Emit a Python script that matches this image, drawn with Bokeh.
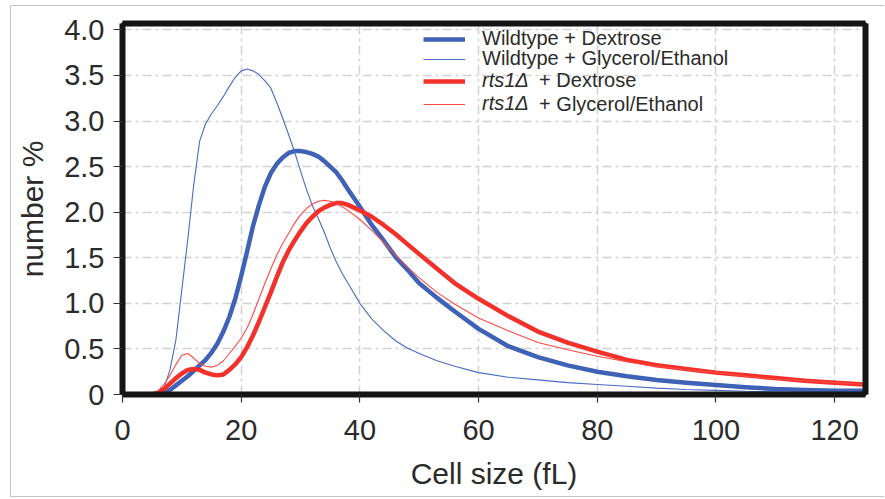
from bokeh.plotting import figure
from bokeh.models import Range1d, FixedTicker, PrintfTickFormatter, Legend, LegendItem, Label, LinearAxis
from bokeh.embed import file_html
from bokeh.resources import INLINE

# ---- data ----
cell_size = [0, 4, 5, 6, 7, 8, 9, 10,
             11, 12, 13, 14, 15, 16, 17, 18, 19, 20, 21, 22, 23, 24, 25, 26, 27, 28, 29, 30,
             31, 32, 33, 34, 35, 36, 37, 38,
             40, 42, 44, 46, 48, 50, 53, 56,
             60, 65, 70, 75, 80, 85, 90, 95, 100, 105, 110, 115, 120, 125]

wt_dextrose = [0, 0, 0, 0, 0.01, 0.05, 0.10, 0.15,
               0.20, 0.26, 0.32, 0.38, 0.46, 0.56, 0.69, 0.85, 1.05, 1.30, 1.57, 1.85, 2.08, 2.28, 2.43, 2.53, 2.60, 2.65, 2.67, 2.67,
               2.66, 2.64, 2.61, 2.56, 2.50, 2.44, 2.35, 2.25,
               2.06, 1.86, 1.69, 1.51, 1.37, 1.22, 1.06, 0.91,
               0.72, 0.53, 0.41, 0.32, 0.25, 0.20, 0.16, 0.13, 0.105, 0.08, 0.06, 0.05, 0.04, 0.04]

wt_glycerol = [0, 0, 0, 0.01, 0.07, 0.27, 0.60, 1.15,
               1.70, 2.30, 2.78, 2.97, 3.08, 3.17, 3.27, 3.38, 3.48, 3.55, 3.57, 3.55, 3.51, 3.44, 3.36, 3.20, 3.03, 2.85, 2.66, 2.45,
               2.25, 2.07, 1.93, 1.78, 1.61, 1.46, 1.33, 1.22,
               1.00, 0.83, 0.70, 0.59, 0.51, 0.45, 0.37, 0.31,
               0.24, 0.19, 0.16, 0.13, 0.11, 0.09, 0.07, 0.055, 0.045, 0.035, 0.03, 0.025, 0.02, 0.02]

rts1_dextrose = [0, 0, 0, 0.02, 0.06, 0.12, 0.18, 0.23,
                 0.27, 0.28, 0.27, 0.24, 0.22, 0.21, 0.22, 0.27, 0.33, 0.41, 0.52, 0.65, 0.80, 0.96, 1.12, 1.29, 1.45, 1.58, 1.69, 1.79,
                 1.88, 1.95, 2.01, 2.05, 2.08, 2.10, 2.10, 2.08,
                 2.02, 1.95, 1.86, 1.76, 1.65, 1.54, 1.38, 1.22,
                 1.05, 0.86, 0.69, 0.57, 0.47, 0.38, 0.32, 0.28, 0.24, 0.21, 0.18, 0.15, 0.13, 0.11]

rts1_glycerol = [0, 0, 0, 0.04, 0.11, 0.21, 0.33, 0.43,
                 0.45, 0.40, 0.34, 0.31, 0.30, 0.32, 0.37, 0.45, 0.53, 0.62, 0.73, 0.88, 1.05, 1.22, 1.38, 1.53, 1.66, 1.77, 1.88, 1.97,
                 2.04, 2.09, 2.12, 2.13, 2.12, 2.10, 2.06, 2.02,
                 1.92, 1.80, 1.67, 1.53, 1.40, 1.28, 1.12, 0.99,
                 0.84, 0.70, 0.57, 0.49, 0.42, 0.36, 0.31, 0.27, 0.24, 0.20, 0.17, 0.15, 0.13, 0.11]

x_ticks = [0, 20, 40, 60, 80, 100, 120]
y_ticks = [0, 0.5, 1.0, 1.5, 2.0, 2.5, 3.0, 3.5, 4.0]
y_tick_overrides = {0: "0"}

legend_wt = ["Wildtype + Dextrose", "Wildtype + Glycerol/Ethanol"]
legend_rts_strain = "rts1\u0394"
legend_rts_media = ["+ Dextrose", "+ Glycerol/Ethanol"]

x_label = "Cell size (fL)"
y_label = "number %"

# ---- styling ----
FONT = "Liberation Sans"
TEXT = "#2b2b2b"
FRAME = "#151515"
BLUE = "#3f62b6"
BLUE_THIN = "#4a6cc2"
RED = "#f3302a"
RED_THIN = "#ff4a44"
BORDER = "#c4c4c4"
FRAME_W = 6

p = figure(width=874, height=492, output_backend="svg", toolbar_location=None,
           x_range=Range1d(0, 125.2), y_range=Range1d(0, 4.07),
           min_border_left=111, min_border_right=20, min_border_top=17, min_border_bottom=104,
           margin=(5, 0, 0, 10),
           styles={"border-left": f"1px solid {BORDER}", "border-top": f"1px solid {BORDER}",
                   "border-bottom": f"1px solid {BORDER}"})

p.background_fill_color = "white"
p.border_fill_color = "white"
p.outline_line_color = FRAME
p.outline_line_width = 3

for ax in (p.xaxis, p.yaxis):
    ax.axis_line_color = FRAME
    ax.axis_line_width = FRAME_W
    ax.major_tick_line_color = "#333333"
    ax.major_tick_line_width = 1.2
    ax.major_tick_in = 0
    ax.minor_tick_line_color = None
    ax.major_label_text_font = FONT
    ax.major_label_text_font_size = "29px"
    ax.major_label_text_color = TEXT
    ax.axis_label_text_font = FONT
    ax.axis_label_text_font_size = "30px"
    ax.axis_label_text_font_style = "normal"
    ax.axis_label_text_color = TEXT

p.xaxis.ticker = FixedTicker(ticks=x_ticks)
p.xaxis.major_tick_out = 8
p.xaxis.major_label_standoff = 17
p.xaxis.axis_label = x_label
p.xaxis.axis_label_standoff = 14

p.yaxis.ticker = FixedTicker(ticks=y_ticks)
p.yaxis.formatter = PrintfTickFormatter(format="%.1f")
p.yaxis.major_label_overrides = y_tick_overrides
p.yaxis.major_tick_out = 9
p.yaxis.major_label_standoff = 9
p.yaxis.axis_label = y_label
p.yaxis.axis_label_standoff = 12

# thick frame lines on top and right (axes without ticks)
for side in ("above", "right"):
    frame_axis = LinearAxis(ticker=FixedTicker(ticks=[]), axis_line_color=FRAME, axis_line_width=FRAME_W,
                            major_tick_line_color=None, minor_tick_line_color=None)
    p.add_layout(frame_axis, side)

for g in (p.xgrid, p.ygrid):
    g.grid_line_color = "#d2d2d2"
    g.grid_line_width = 1.5
    g.grid_line_dash = "9 4 3 4"
p.xgrid.ticker = FixedTicker(ticks=x_ticks[1:])
p.ygrid.ticker = FixedTicker(ticks=y_ticks[1:])

r_wt_dex = p.line(cell_size, wt_dextrose, line_color=BLUE, line_width=4.5, line_join="round")
r_wt_gly = p.line(cell_size, wt_glycerol, line_color=BLUE_THIN, line_width=1.1)
r_rts_dex = p.line(cell_size, rts1_dextrose, line_color=RED, line_width=4.5, line_join="round")
r_rts_gly = p.line(cell_size, rts1_glycerol, line_color=RED_THIN, line_width=1.1)

# ---- legend: one single-item legend per row ----
row_bottoms = [344, 324, 302, 279]
rows = [(r_wt_dex, legend_wt[0], "normal"),
        (r_wt_gly, legend_wt[1], "normal"),
        (r_rts_dex, legend_rts_strain, "italic"),
        (r_rts_gly, legend_rts_strain, "italic")]
for (rend, lab, style), yb in zip(rows, row_bottoms):
    lg = Legend(items=[LegendItem(label=lab, renderers=[rend])], location=(301, yb),
                glyph_width=42, glyph_height=20, label_height=20, label_standoff=17,
                padding=0, margin=0, spacing=0, border_line_color=None,
                background_fill_alpha=0, label_text_font=FONT, label_text_font_size="20px",
                label_text_color=TEXT, label_text_font_style=style)
    p.add_layout(lg)

for media, yv in zip(legend_rts_media, [3.445, 3.192]):
    p.add_layout(Label(x=70.2, y=yv, text=media, text_baseline="middle",
                       text_font=FONT, text_font_size="20px", text_color=TEXT))

open("out.html", "w").write(file_html(p, INLINE))
